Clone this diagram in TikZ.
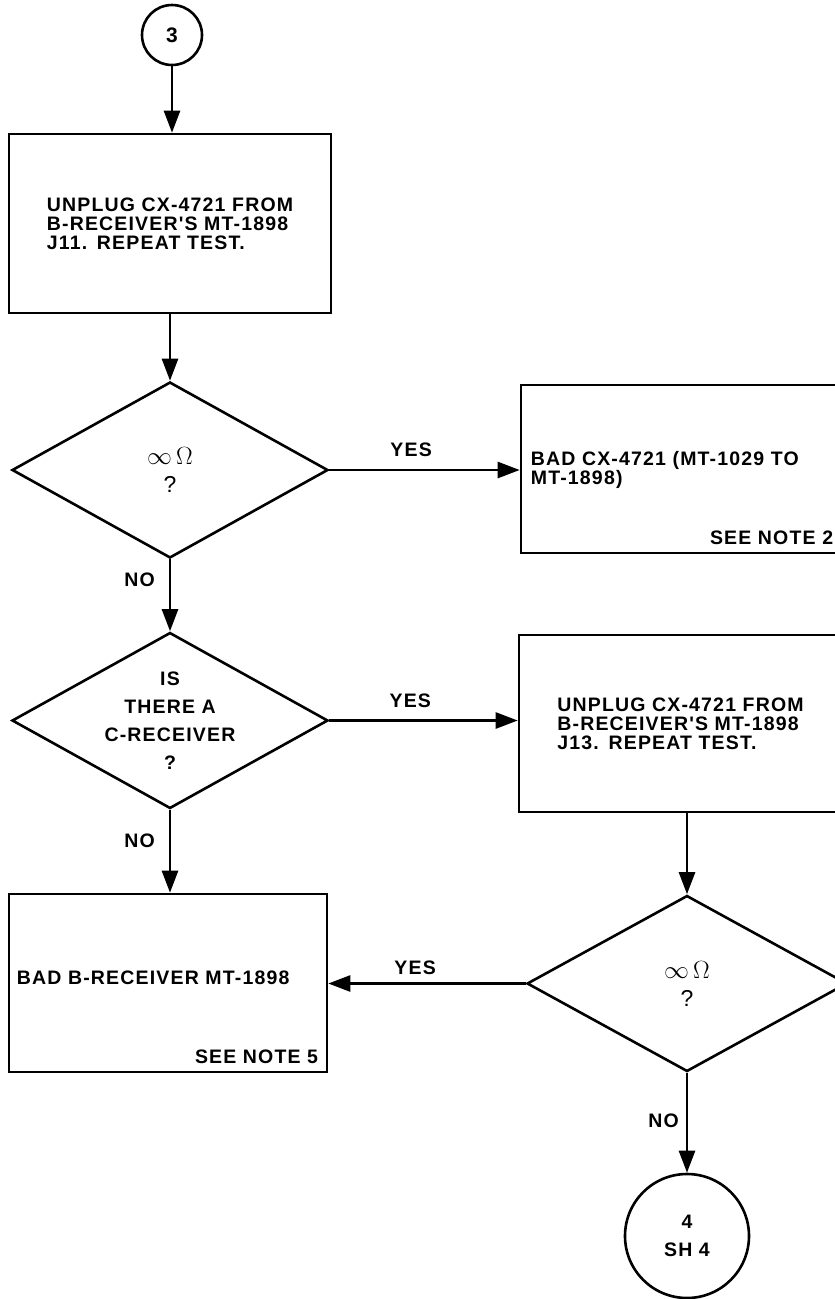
\documentclass[tikz,border=0pt]{standalone}
\usepackage{fontspec}
\setmainfont{Liberation Sans}
\newfontfamily\chartfont{Liberation Sans}[LetterSpace=6]
\usetikzlibrary{arrows.meta, calc, positioning, shapes.geometric}

\begin{document}
\begin{tikzpicture}[x=1pt, y=-1pt,
  txt/.style={font=\chartfont\bfseries\fontsize{19.5}{19}\selectfont, align=left, inner sep=0pt},
  qtxt/.style={font=\chartfont\bfseries\fontsize{19.5}{28}\selectfont, align=center, inner sep=0pt},
  blk/.style={draw, line width=2.6pt, inner sep=0pt},
  choice/.style={draw, diamond, line width=2.6pt, inner sep=0pt, minimum width=316pt, minimum height=176pt},
  term/.style={draw, circle, line width=2.6pt, inner sep=0pt},
  conn/.style={line width=2.6pt, -{Triangle[length=22pt, width=16pt]}},
  lbl/.style={font=\chartfont\bfseries\fontsize{19.5}{19}\selectfont, inner sep=0pt}]
\clip (0,0) rectangle (835,1299);
\node[term, minimum size=60pt] (c3) at (172,35) {};
\node[qtxt, font=\chartfont\bfseries\fontsize{21}{28}\selectfont] (c3t) at (c3) {3};
\node[blk, minimum width=322pt, minimum height=179pt, txt] (b1) at (170,223.5) {UNPLUG CX-4721 FROM\\B-RECEIVER'S MT-1898\\J11.\enspace REPEAT TEST.};
\node[choice] (q1) at (170,470) {};
\node[qtxt, font=\fontsize{23}{28}\selectfont] (q1t) at (q1) {$\infty\,\Omega$\\?};
\node[blk, minimum width=321pt, minimum height=168pt] (b2) at (681.5,469) {};
\node[txt, anchor=west] (b2t) at ($(b2.west)+(11,1)$) {BAD CX-4721 (MT-1029 TO\\MT-1898)};
\node[txt, anchor=south east] (n2) at ($(b2.south east)+(-10,-9)$) {SEE NOTE 2};
\node[choice] (q2) at (170,720.5) {};
\node[qtxt] (q2t) at (q2) {IS\\THERE A\\C-RECEIVER\\?};
\node[blk, minimum width=323pt, minimum height=177pt, txt] (b3) at (680.5,723.5) {UNPLUG CX-4721 FROM\\B-RECEIVER'S MT-1898\\J13.\enspace REPEAT TEST.};
\node[blk, minimum width=318pt, minimum height=178pt] (b4) at (168,983) {};
\node[txt, anchor=west] (b4t) at ($(b4.west)+(9,-5)$) {BAD B-RECEIVER MT-1898};
\node[txt, anchor=south east] (n5) at ($(b4.south east)+(-10,-9)$) {SEE NOTE 5};
\node[choice, minimum width=320pt] (q3) at (687,983.5) {};
\node[qtxt, font=\fontsize{23}{28}\selectfont] (q3t) at (q3) {$\infty\,\Omega$\\?};
\node[term, minimum size=124pt] (c4) at (687,1236) {};
\node[qtxt] (c4t) at (c4) {4\\SH 4};
\draw[conn] (c3) -- (c3 |- b1.north);
\draw[conn] (b1) -- (q1);
\draw[conn] (q1.east) -- node[lbl, pos=0.43, above=12pt] (y1) {YES} (b2.west |- q1.east);
\draw[conn] (q1) -- node[lbl, pos=0.28, left=14pt] (n1) {NO} (q2);
\draw[conn] (q2.east) -- node[lbl, pos=0.43, above=12pt] (y2) {YES} (b3.west |- q2.east);
\draw[conn] (q2.south) -- node[lbl, pos=0.37, left=14pt] (no2) {NO} (q2.south |- b4.north);
\draw[conn] (q3.north |- b3.south) -- (q3.north);
\draw[conn] (q3.west) -- node[lbl, pos=0.56, above=8pt] (y3) {YES} (b4.east |- q3.west);
\draw[conn] (q3) -- node[lbl, pos=0.48, left=7pt] (no3) {NO} (c4);
\end{tikzpicture}
\end{document}
